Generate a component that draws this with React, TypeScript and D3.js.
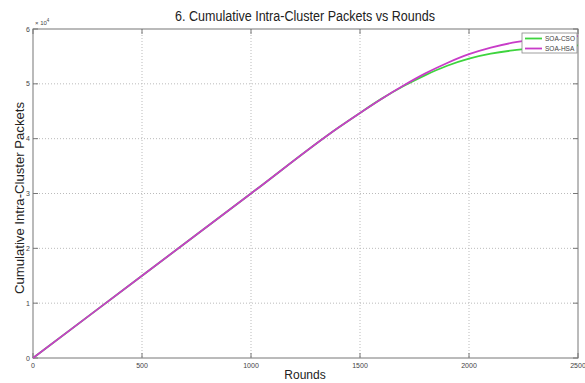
import React from "react";
import * as d3 from "d3";

const rounds = [0, 500, 1000, 1400, 1500, 1600, 1700, 1800, 1900, 2000, 2100, 2200, 2300, 2400, 2500];
const hsaPackets = [0, 15000, 30000, 42000, 44700, 47300, 49700, 51900, 53800, 55400, 56600, 57500, 58100, 58500, 58700];
const csoPackets = [0, 15000, 30000, 42000, 44700, 47300, 49600, 51600, 53300, 54600, 55500, 56100, 56500, 56800, 57000];
const seriesNames = ["SOA-CSO", "SOA-HSA"];
const xTicks = [0, 500, 1000, 1500, 2000, 2500];
const yTicks = [0, 10000, 20000, 30000, 40000, 50000, 60000];
const yTickLabels = ["0", "1", "2", "3", "4", "5", "6"];

const W = 585, H = 383;
const M = { left: 33, right: 578, top: 29, bottom: 358 };

export default function App() {
  const x = d3.scaleLinear().domain([0, 2500]).range([M.left, M.right]);
  const y = d3.scaleLinear().domain([0, 60000]).range([M.bottom, M.top]);
  const line = (vals: number[]) =>
    d3.line<number>().x((_, i) => x(rounds[i])).y((v) => y(v)).curve(d3.curveMonotoneX)(vals) || "";
  const colors = ["#3ed43e", "#c83cc8"];
  const axisColor = "#777";
  const font = "Liberation Sans, Arial, sans-serif";
  return (
    <svg width={W} height={H} style={{ position: "absolute", left: 0, top: 0, background: "#fff" }} fontFamily={font}>
      <rect x={0} y={0} width={W} height={H} fill="#fff" />
      {/* grid */}
      {xTicks.slice(1, -1).map((t) => (
        <line key={"gx" + t} x1={x(t)} x2={x(t)} y1={M.top} y2={M.bottom} stroke="#bbb" strokeWidth={1} strokeDasharray="1,2" />
      ))}
      {yTicks.slice(1, -1).map((t) => (
        <line key={"gy" + t} x1={M.left} x2={M.right} y1={y(t)} y2={y(t)} stroke="#bbb" strokeWidth={1} strokeDasharray="1,2" />
      ))}
      {/* box */}
      <rect x={M.left} y={M.top} width={M.right - M.left} height={M.bottom - M.top} fill="none" stroke={axisColor} strokeWidth={1} />
      {/* ticks */}
      {xTicks.map((t) => (
        <g key={"tx" + t}>
          <line x1={x(t)} x2={x(t)} y1={M.bottom} y2={M.bottom - 5} stroke={axisColor} />
          <line x1={x(t)} x2={x(t)} y1={M.top} y2={M.top + 5} stroke={axisColor} />
          <text x={x(t)} y={M.bottom + 10} fontSize={7} textAnchor="middle" fill="#444">{t}</text>
        </g>
      ))}
      {yTicks.map((t, i) => (
        <g key={"ty" + t}>
          <line x1={M.left} x2={M.left + 5} y1={y(t)} y2={y(t)} stroke={axisColor} />
          <line x1={M.right} x2={M.right - 5} y1={y(t)} y2={y(t)} stroke={axisColor} />
          <text x={M.left - 3} y={y(t) + 2.5} fontSize={7} textAnchor="end" fill="#444">{yTickLabels[i]}</text>
        </g>
      ))}
      <text x={M.left + 2} y={M.top - 4} fontSize={6} fill="#444">× 10<tspan dy={-3} fontSize={4.5}>4</tspan></text>
      {/* lines */}
      <path d={line(csoPackets)} fill="none" stroke={colors[0]} strokeWidth={1.8} />
      <path d={line(hsaPackets)} fill="none" stroke={colors[1]} strokeWidth={1.8} />
      {/* legend */}
      <rect x={522} y={33} width={55} height={20} fill="#fff" stroke="#888" strokeWidth={0.8} />
      {seriesNames.map((n, i) => (
        <g key={n}>
          <line x1={525} x2={542} y1={38.5 + i * 10} y2={38.5 + i * 10} stroke={colors[i]} strokeWidth={1.8} />
          <text x={545} y={41 + i * 10} fontSize={6.5} fill="#444">{n}</text>
        </g>
      ))}
      {/* titles */}
      <text x={305} y={21} fontSize={14} textAnchor="middle" fill="#222" textLength={260} lengthAdjust="spacingAndGlyphs">6. Cumulative Intra-Cluster Packets vs Rounds</text>
      <text x={305} y={379} fontSize={12} textAnchor="middle" fill="#222">Rounds</text>
      <text transform={`translate(24, 198) rotate(-90)`} fontSize={13} textAnchor="middle" fill="#222" textLength={192} lengthAdjust="spacingAndGlyphs">Cumulative Intra-Cluster Packets</text>
    </svg>
  );
}
